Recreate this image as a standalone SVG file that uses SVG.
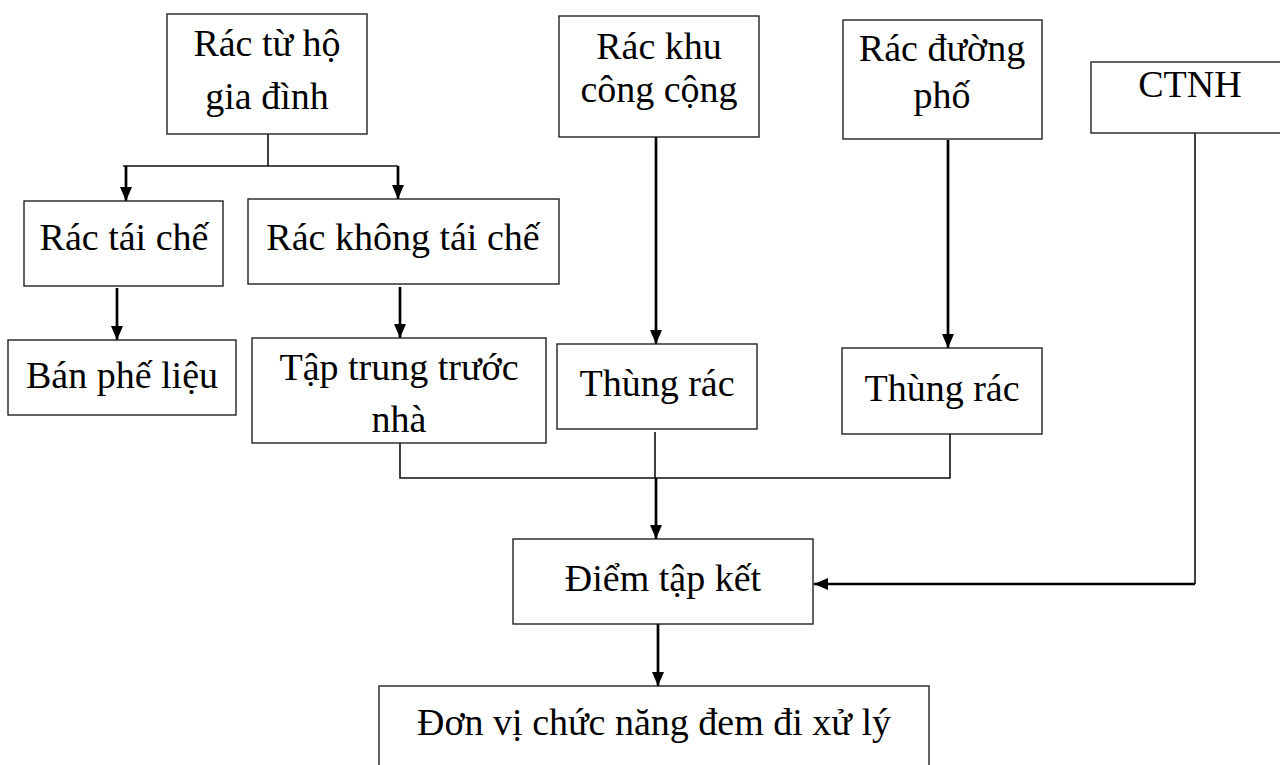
<svg xmlns="http://www.w3.org/2000/svg" width="1280" height="765" viewBox="0 0 1280 765">
<style>
.box{fill:#fff;stroke:#222;stroke-width:1.4}
.t{font-family:"Liberation Serif","Times New Roman",serif;font-size:38px;fill:#000;text-anchor:middle}
.arr{fill:none;stroke:#000;stroke-width:2.7}
.ln{fill:none;stroke:#111;stroke-width:1.6}
</style>
<defs>
<marker id="ah" viewBox="0 0 14 12" markerWidth="14" markerHeight="12" markerUnits="userSpaceOnUse" refX="14" refY="6" orient="auto">
<path d="M0,0 L14,6 L0,12 z" fill="#000"/>
</marker>
</defs>
<rect width="1280" height="765" fill="#fff"/>
<g id="connectors">
<path class="ln" d="M268,134 V166 M123,166 H398"/>
<path class="arr" d="M126,166 V201" marker-end="url(#ah)"/>
<path class="arr" d="M398,166 V199" marker-end="url(#ah)"/>
<path class="arr" d="M117,288 V340" marker-end="url(#ah)"/>
<path class="arr" d="M400,287 V338" marker-end="url(#ah)"/>
<path class="arr" d="M656,137 V344" marker-end="url(#ah)"/>
<path class="arr" d="M948,140 V348" marker-end="url(#ah)"/>
<path class="ln" d="M400,443 V478 H950 V434"/>
<path class="ln" d="M655,432 V478"/>
<path class="arr" d="M656,478 V539" marker-end="url(#ah)"/>
<path class="arr" d="M658,624 V686" marker-end="url(#ah)"/>
<path class="ln" d="M1195,133 V584"/>
<path class="arr" d="M1195,584 H814" marker-end="url(#ah)"/>
</g>
<g id="n-ho-gia-dinh"><rect class="box" x="167" y="14" width="200" height="120"/><text class="t" x="267" y="56">Rác từ hộ</text><text class="t" x="267" y="109">gia đình</text></g>
<g id="n-khu-cong-cong"><rect class="box" x="559" y="16" width="200" height="121"/><text class="t" x="659" y="59">Rác khu</text><text class="t" x="659" y="102">công cộng</text></g>
<g id="n-duong-pho"><rect class="box" x="843" y="20" width="199" height="119"/><text class="t" x="942" y="61">Rác đường</text><text class="t" x="942" y="108">phố</text></g>
<g id="n-ctnh"><rect class="box" x="1091" y="62" width="200" height="71"/><text class="t" x="1190" y="97">CTNH</text></g>
<g id="n-tai-che"><rect class="box" x="24" y="201" width="199" height="85"/><text class="t" x="124" y="250">Rác tái chế</text></g>
<g id="n-khong-tai-che"><rect class="box" x="248" y="199" width="311" height="85"/><text class="t" x="403" y="250">Rác không tái chế</text></g>
<g id="n-ban-phe-lieu"><rect class="box" x="8" y="340" width="228" height="75"/><text class="t" x="122" y="388">Bán phế liệu</text></g>
<g id="n-tap-trung"><rect class="box" x="252" y="338" width="294" height="105"/><text class="t" x="399" y="380">Tập trung trước</text><text class="t" x="399" y="432">nhà</text></g>
<g id="n-thung-rac-1"><rect class="box" x="557" y="344" width="200" height="85"/><text class="t" x="657" y="396">Thùng rác</text></g>
<g id="n-thung-rac-2"><rect class="box" x="842" y="348" width="200" height="86"/><text class="t" x="942" y="401">Thùng rác</text></g>
<g id="n-diem-tap-ket"><rect class="box" x="513" y="539" width="300" height="85"/><text class="t" x="663" y="591">Điểm tập kết</text></g>
<g id="n-don-vi"><rect class="box" x="379" y="686" width="550" height="95"/><text class="t" x="654" y="735">Đơn vị chức năng đem đi xử lý</text></g>
</svg>
